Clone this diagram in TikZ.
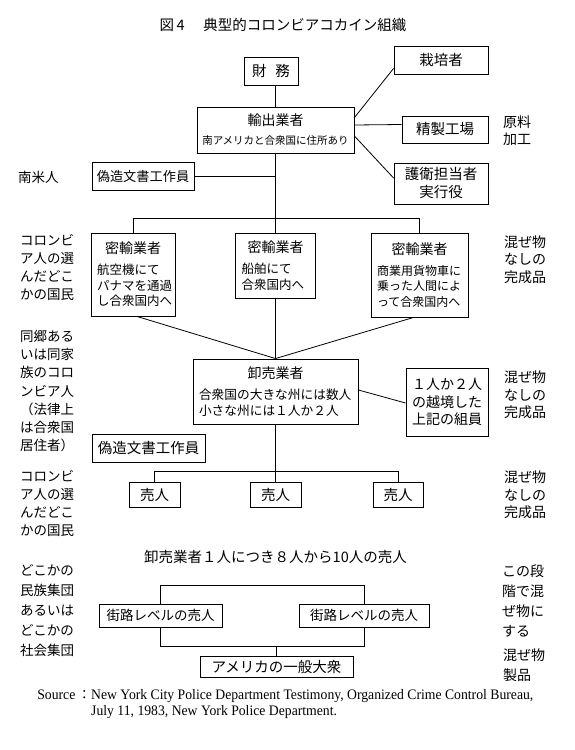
\documentclass[tikz,border=0pt]{standalone}
\usepackage{fontspec}
\setmainfont{Noto Sans CJK JP}
\newfontfamily\srcfont[FakeStretch=0.945]{Liberation Serif}
\usetikzlibrary{calc}
\newcommand{\boxhead}[1]{\hfill{\fontsize{14}{14}\selectfont #1}\hfill\mbox{}\\[5.5pt]}
\begin{document}
\begin{tikzpicture}[x=1pt,y=-1pt,
  box/.style={draw, line width=0.9pt, inner sep=0pt, align=center},
  sbox/.style={draw, line width=0.9pt, inner ysep=0pt, inner xsep=6pt, align=left},
  conn/.style={line width=0.8pt},
  lab/.style={anchor=west, align=left, inner sep=0pt, font=\fontsize{13.5}{18.3}\selectfont},
  big/.style={font=\fontsize{14.5}{18}\selectfont},
  src/.style={anchor=base west, inner sep=0pt, font=\fontsize{14.5}{16}\selectfont\srcfont},
]
\useasboundingbox[fill=white] (0,0) rectangle (574,750);

% title
\node[big, inner sep=0pt] (title) at (283,25) {図\,4\hspace{1.3em}典型的コロンビアコカイン組織};

% top part
\node[box, big, minimum width=54, minimum height=28] (zaimu) at (271,71) {財\hspace{0.6em}務};
\node[box, font=\fontsize{14}{21}\selectfont, minimum width=157, minimum height=46] (exp) at (275.5,130)
  {\raisebox{-2pt}{輸出業者}\\{\fontsize{10.5}{12}\selectfont 南アメリカと合衆国に住所あり}};
\node[box, big, minimum width=94, minimum height=28] (grower) at (441,60) {栽培者};
\node[box, big, minimum width=86, minimum height=27] (refine) at (445,129.5) {精製工場};
\node[box, font=\fontsize{14.5}{18}\selectfont, minimum width=94, minimum height=41] (guard) at (441,183.5) {護衛担当者\\実行役};
\node[box, font=\fontsize{13.2}{16}\selectfont, minimum width=102, minimum height=28] (forgerA) at (143,176) {偽造文書工作員};

% smugglers
\node[sbox, text width=72, minimum width=84, minimum height=83, font=\fontsize{12.5}{15.5}\selectfont] (smugA) at (133,274.5)
  {\boxhead{密輸業者}航空機にて\\パナマを通過\\し合衆国内へ};
\node[sbox, text width=68, minimum width=80, minimum height=65, font=\fontsize{12.5}{15.5}\selectfont] (smugB) at (275.5,265.5)
  {\boxhead{密輸業者}船舶にて\\合衆国内へ};
\node[sbox, text width=85, minimum width=97, minimum height=84, font=\fontsize{12}{15.5}\selectfont] (smugC) at (419.5,275)
  {\boxhead{密輸業者}商業用貨物車に\\乗った人間によ\\って合衆国内へ};

% wholesaler
\node[sbox, text width=153, minimum width=165, minimum height=65, font=\fontsize{12.7}{16}\selectfont] (whole) at (275.5,391.5)
  {\boxhead{卸売業者}合衆国の大きな州には数人\\小さな州には１人か２人};
\node[box, font=\fontsize{14}{17.5}\selectfont, minimum width=82, minimum height=68] (cross) at (447,402) {１人か２人\\の越境した\\上記の組員};
\node[box, font=\fontsize{14.5}{16}\selectfont, minimum width=113, minimum height=28] (forgerB) at (148.5,448) {偽造文書工作員};

% sellers
\node[box, big, minimum width=51, minimum height=25] (sellA) at (154.5,494.5) {売人};
\node[box, big, minimum width=51, minimum height=25] (sellB) at (275.5,494.5) {売人};
\node[box, big, minimum width=50, minimum height=25] (sellC) at (398,494.5) {売人};

% bottom
\node[big, inner sep=0pt] (per) at (275.5,557) {卸売業者１人につき８人から10人の売人};
\node[box, font=\fontsize{13.5}{16}\selectfont, minimum width=123, minimum height=23] (streetA) at (160.5,615.5) {街路レベルの売人};
\node[box, font=\fontsize{13.5}{16}\selectfont, minimum width=130, minimum height=23] (streetB) at (364,615.5) {街路レベルの売人};
\node[box, big, minimum width=153, minimum height=21] (public) at (276.5,667) {アメリカの一般大衆};

% connectors
\coordinate (barA) at (275.5,218);
\coordinate (barB) at (275.5,471);
\coordinate (barC) at (0,585);
\coordinate (barD) at (0,646);
\draw[conn] (exp.north) -- (exp.north |- zaimu.south);
\draw[conn] ($(exp.north east)+(0,11)$) -- ($(grower.south west)+(0,-6)$);
\draw[conn] ($(exp.east)+(0,-5)$) -- ($(refine.west)+(0,-5)$);
\draw[conn] ($(exp.east)+(0,6)$) -- ($(guard.west)+(0,-5.5)$);
\draw[conn] (exp.south) -- (smugB.north);
\draw[conn] (forgerA.east) -- (forgerA.east -| exp.south);
\draw[conn] (smugA.north) -- (smugA.north |- barA) -- (smugC.north |- barA) -- (smugC.north);
\draw[conn] ($(smugA.south)+(4,0)$) -- (whole.north);
\draw[conn] (smugB.south) -- (whole.north);
\draw[conn] ($(smugC.south)+(-6,0)$) -- (whole.north);
\draw[conn] ($(whole.east)+(0,-1.5)$) -- ($(cross.west)+(0,1)$);
\draw[conn] (whole.south) -- (sellB.north);
\draw[conn] (sellA.north) -- (sellA.north |- barB) -- (sellC.north |- barB) -- (sellC.north);
\draw[conn] (streetA.north) -- (streetA.north |- barC) -- (streetB.north |- barC) -- (streetB.north);
\draw[conn] (streetA.south) -- (streetA.south |- barD) -- (streetB.south |- barD) -- (streetB.south);
\draw[conn] (public.north |- barD) -- (public.north);

% left labels
\node[lab] (lNanbei) at (18,177) {南米人};
\node[lab] (lColA) at (20,267.5) {コロンビ\\ア人の選\\んだどこ\\かの国民};
\node[lab] (lDokyo) at (20,391) {同郷ある\\いは同家\\族のコロ\\ンビア人\\（法律上\\は合衆国\\居住者）};
\node[lab] (lColB) at (20,503.5) {コロンビ\\ア人の選\\んだどこ\\かの国民};
\node[lab, font=\fontsize{13.5}{20}\selectfont] (lEthnic) at (20,611) {どこかの\\民族集団\\あるいは\\どこかの\\社会集団};

% right labels
\node[lab, font=\fontsize{14}{17}\selectfont] (rGenryo) at (503,130.5) {原料\\加工};
\node[lab, font=\fontsize{14}{17.5}\selectfont] (rMixA) at (504,259.5) {混ぜ物\\なしの\\完成品};
\node[lab, font=\fontsize{14}{17.5}\selectfont] (rMixB) at (504,395) {混ぜ物\\なしの\\完成品};
\node[lab, font=\fontsize{14}{17.5}\selectfont] (rMixC) at (504,495) {混ぜ物\\なしの\\完成品};
\node[lab, font=\fontsize{14}{19.7}\selectfont] (rStage) at (502,601) {この段\\階で混\\ぜ物に\\する};
\node[lab, font=\fontsize{14}{20}\selectfont] (rProd) at (503,665) {混ぜ物\\製品};

% source
\node[anchor=base east, inner sep=0pt, font=\fontsize{14.5}{16}\selectfont] (srcLab) at (91,699) {{\srcfont Source}\,\fontsize{13}{16}\selectfont：};
\node[src] (srcLineA) at (91,699) {New York City Police Department Testimony, Organized Crime Control Bureau,};
\node[src] (srcLineB) at (91,715) {July 11, 1983, New York Police Department.};
\end{tikzpicture}
\end{document}
